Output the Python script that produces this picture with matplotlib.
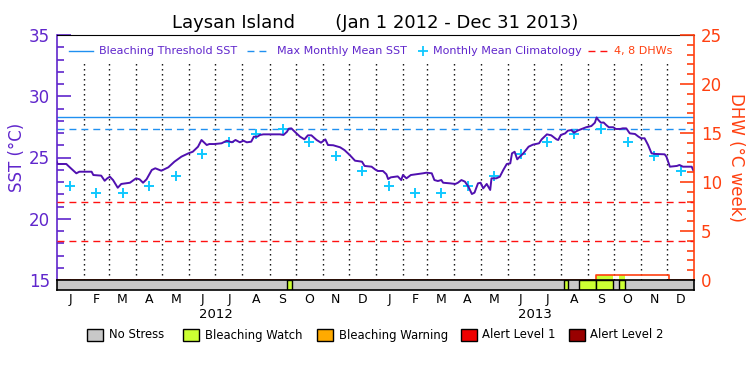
import matplotlib
matplotlib.use("Agg")
import matplotlib.pyplot as plt
import matplotlib.transforms as mtrans
from matplotlib.lines import Line2D
from matplotlib.patches import Rectangle
import numpy as np

# ---------------- data ----------------
# days counted from Jan 1 2012
sst_day = [0, 1, 11, 15, 22.5, 26, 40, 42, 51, 55, 58, 61, 64.6, 70, 74, 84, 91, 95, 99, 103,
           109, 113, 120, 128, 135, 143, 151, 156, 162, 166, 172, 175, 181, 189, 195, 201, 205,
           210, 214, 218, 223, 226, 230, 233, 237, 256, 260, 264, 266, 269, 273, 279, 284, 288,
           292, 298, 303, 308, 311, 317, 325, 330, 336, 342, 350, 353, 361, 365, 368, 374, 378,
           380, 383, 391, 395, 397, 401, 406, 420, 424, 430, 433, 437, 441, 443, 451, 457, 460,
           464, 468, 472, 476, 479, 483, 486, 489, 493, 497, 498.5, 504, 508, 512, 516, 520, 522,
           525, 528, 531, 535, 541, 546, 553, 556, 562, 567, 573, 575, 578, 583, 586, 590, 593,
           597, 602, 607, 613, 617, 619, 621, 624, 627, 630, 633, 638, 641, 646, 649, 653, 657,
           663, 667, 670, 674, 678, 682, 686, 697, 699, 703, 711, 714, 718, 728, 730.5]
sst_val = [24.66, 24.47, 24.47, 24.2, 23.71, 23.84, 23.84, 23.57, 23.52, 23.1, 23.3, 23.43, 23.16,
           22.53, 22.84, 22.94, 23.3, 23.22, 22.94, 23.22, 23.98, 24.12, 23.92, 24.2, 24.66,
           25.07, 25.34, 25.47, 25.88, 26.43, 26.02, 26.1, 26.1, 26.16, 26.37, 26.24, 26.43,
           26.24, 26.37, 26.24, 26.29, 26.7, 26.7, 26.84, 26.89, 26.89, 26.84, 27.1, 27.35,
           27.38, 27.1, 26.7, 26.48, 26.81, 26.81, 26.43, 26.21, 26.48, 26.02, 26.0, 25.83, 25.6,
           25.2, 24.74, 24.66, 24.31, 24.25, 24.03, 23.9, 23.9, 23.63, 23.24, 23.38, 23.46, 23.16,
           23.57, 23.3, 23.57, 23.71, 23.76, 23.71, 23.16, 23.08, 23.16, 22.94, 22.89, 22.84,
           22.94, 23.16, 23.03, 22.62, 22.02, 22.13, 22.89, 22.94, 22.48, 22.84, 22.35, 23.3,
           23.3, 23.43, 23.98, 24.47, 24.52, 25.34, 25.47, 24.85, 25.07, 25.34, 25.88, 26.05,
           26.16, 26.48, 26.89, 26.81, 26.48, 26.43, 26.84, 26.97, 27.19, 27.24, 27.02, 27.19,
           27.33, 27.47, 27.57, 27.84, 28.27, 28.06, 27.84, 27.86, 27.65, 27.47, 27.47, 27.33,
           27.33, 27.38, 27.38, 26.97, 26.92, 26.7, 26.57, 26.57, 26.02, 25.34, 25.29, 25.26,
           25.07, 24.25, 24.31, 24.39, 24.25, 24.25, 23.84]

clim_val = [22.65, 22.07, 22.07, 22.65, 23.45, 25.3, 26.24, 26.95, 27.3, 26.24, 25.1, 23.9]
mmm = 27.3
threshold = 28.3
dhw_lines = [4, 8]

dhw_day = [0, 618, 702, 731]
dhw_val = [0, 0.48, 0, 0]

# stress segments (start day, end day, level index)
stress_start = [263.7, 581.9, 599.1, 618.5, 644.6]
stress_end = [270.1, 585.8, 618.0, 638.1, 651.5]
stress_level = [1, 1, 1, 1, 1]

stress_names = ["No Stress", "Bleaching Watch", "Bleaching Warning", "Alert Level 1", "Alert Level 2"]
stress_colors = ["#c8c8c8", "#ccff33", "#ffaa00", "#ee0000", "#990000"]

month_letters = ["J", "F", "M", "A", "M", "J", "J", "A", "S", "O", "N", "D"]
years = ["2012", "2013"]
year_lengths = [366, 365]
month_days = [[31, 29, 31, 30, 31, 30, 31, 31, 30, 31, 30, 31],
              [31, 28, 31, 30, 31, 30, 31, 31, 30, 31, 30, 31]]

# ---------------- derived positions ----------------
month_start = []
month_mid = []
d = 0
for y in range(2):
    for m in range(12):
        month_start.append(d)
        month_mid.append(d + month_days[y][m] / 2.0)
        d += month_days[y][m]
total_days = d
clim_x = month_mid
clim_y = clim_val * 2

# ---------------- style ----------------
PURPLE = "#6026cc"
LINEP = "#5010b0"
ORANGE = "#ff4010"
RED = "#ff1010"
BLUE = "#2090f0"
CYAN = "#10c8ff"

W, H = 750, 375
fig = plt.figure(figsize=(7.5, 3.75), dpi=100)
fig.patch.set_facecolor("white")

def fx(px):
    return px / W

def fy(py):
    return 1 - py / H

L, R, T, B = 56.7, 694.3, 35, 280
ax = fig.add_axes([fx(L), fy(B), fx(R) - fx(L), fy(T) - fy(B)])
ax.set_xlim(0, total_days)
ax.set_ylim(15, 35)
ax2 = ax.twinx()
ax2.set_ylim(0, 25)

# spines
ax.spines["left"].set_color(PURPLE)
ax.spines["left"].set_linewidth(1.2)
ax.spines["top"].set_color("black")
ax.spines["bottom"].set_color("black")
ax.spines["right"].set_visible(False)
ax2.spines["right"].set_color(ORANGE)
ax2.spines["right"].set_linewidth(1.2)
for s in ["left", "top", "bottom"]:
    ax2.spines[s].set_visible(False)

ax.set_xticks([])
ax.set_yticks([15, 20, 25, 30, 35])
ax.set_yticks(np.arange(15, 36, 1), minor=True)
ax.tick_params(axis="y", which="major", direction="in", length=10, width=1.2, color=PURPLE,
               labelcolor=PURPLE, labelsize=12, pad=5)
ax.tick_params(axis="y", which="minor", direction="in", length=5, width=1.2, color=PURPLE)
ax2.set_yticks([0, 5, 10, 15, 20, 25])
ax2.set_yticks(np.arange(0, 26, 1), minor=True)
ax2.tick_params(axis="y", which="major", direction="in", length=10, width=1.2, color=ORANGE,
                labelcolor=ORANGE, labelsize=12, pad=5)
ax2.tick_params(axis="y", which="minor", direction="in", length=5, width=1.2, color=ORANGE)

ax.set_ylabel("SST (°C)", color=PURPLE, fontsize=12, labelpad=2)
ax2.set_ylabel("DHW (°C week)", color=ORANGE, fontsize=12, rotation=270, labelpad=16)

# month dotted lines
ax.vlines(month_start[1:], 15, 32.7, colors="black", linestyles=(0, (1, 2.6)), linewidth=1.0)

# reference lines
ax.axhline(threshold, color=BLUE, lw=1.0)
ax.axhline(mmm, color=BLUE, lw=1.0, ls=(0, (5, 3.6)))
for v in dhw_lines:
    ax2.axhline(v, color=RED, lw=1.0, ls=(0, (5, 3.6)))

# climatology
ax.plot(clim_x, clim_y, ls="none", marker="+", ms=7, mew=1.4, color=CYAN, zorder=4)
# SST
ax.plot(sst_day, sst_val, color=LINEP, lw=1.4, zorder=5)

# DHW fill where watch overlaps DHW > 0
dhw_on_start, dhw_on_end, dhw_h = dhw_day[1], dhw_day[2], dhw_val[1]
for s, e, lv in zip(stress_start, stress_end, stress_level):
    a, b = max(s, dhw_on_start), min(e, dhw_on_end)
    if b > a:
        ax2.fill_between([a, b], 0, dhw_h, color=stress_colors[lv], lw=0, zorder=2)
ax2.plot(dhw_day, dhw_val, drawstyle="steps-post", color=ORANGE, lw=1.2, zorder=3)

# stress bar
axb = fig.add_axes([fx(L), fy(290), fx(R) - fx(L), fy(280) - fy(290)])
axb.set_xlim(0, total_days)
axb.set_ylim(0, 1)
axb.set_facecolor(stress_colors[0])
for sp in axb.spines.values():
    sp.set_color("black")
    sp.set_linewidth(1.2)
axb.set_yticks([])
for s, e, lv in zip(stress_start, stress_end, stress_level):
    axb.add_patch(Rectangle((s, 0), e - s, 1, facecolor=stress_colors[lv], edgecolor="black", lw=1.0))
axb.set_xticks(month_mid)
axb.set_xticklabels(month_letters * 2)
axb.tick_params(axis="x", length=0, pad=2, labelsize=9)
ystart = 0
btrans = mtrans.blended_transform_factory(axb.transData, fig.transFigure)
for yname, ylen in zip(years, year_lengths):
    axb.text(ystart + ylen / 2.0, fy(315), yname, transform=btrans,
             ha="center", va="center", fontsize=9.5)
    ystart += ylen

# title
fig.text(fx(375), fy(23), "Laysan Island       (Jan 1 2012 - Dec 31 2013)", ha="center", va="center",
         fontsize=13, color="black")

# top legend
LFS = 8
ly = fy(51)
fig.add_artist(Line2D([fx(69), fx(93)], [ly, ly], color=BLUE, lw=1.0))
fig.text(fx(99), ly, "Bleaching Threshold SST", color=PURPLE, fontsize=LFS, va="center")
fig.add_artist(Line2D([fx(247), fx(268)], [ly, ly], color=BLUE, lw=1.0, ls=(0, (5, 3.6))))
fig.text(fx(277), ly, "Max Monthly Mean SST", color=PURPLE, fontsize=LFS, va="center")
fig.add_artist(Line2D([fx(423)], [ly], color=CYAN, marker="+", ms=6.5, mew=1.3, ls="none"))
fig.text(fx(433), ly, "Monthly Mean Climatology", color=PURPLE, fontsize=LFS, va="center")
fig.add_artist(Line2D([fx(588), fx(608)], [ly, ly], color=RED, lw=1.0, ls=(0, (5, 3.6))))
fig.text(fx(614), ly, "4, 8 DHWs", color=ORANGE, fontsize=LFS, va="center")

# bottom legend
box_x = [87, 183, 317, 461, 569]
text_x = [109, 205, 339, 482, 590]
for bx, tx, name, col in zip(box_x, text_x, stress_names, stress_colors):
    fig.add_artist(Rectangle((fx(bx), fy(340.7)), fx(16), 11.4 / H, facecolor=col, edgecolor="black",
                             lw=1.0, transform=fig.transFigure))
    fig.text(fx(tx), fy(335), name, fontsize=8.4, va="center", color="black")

fig.savefig("out.png", dpi=100, facecolor="white")
